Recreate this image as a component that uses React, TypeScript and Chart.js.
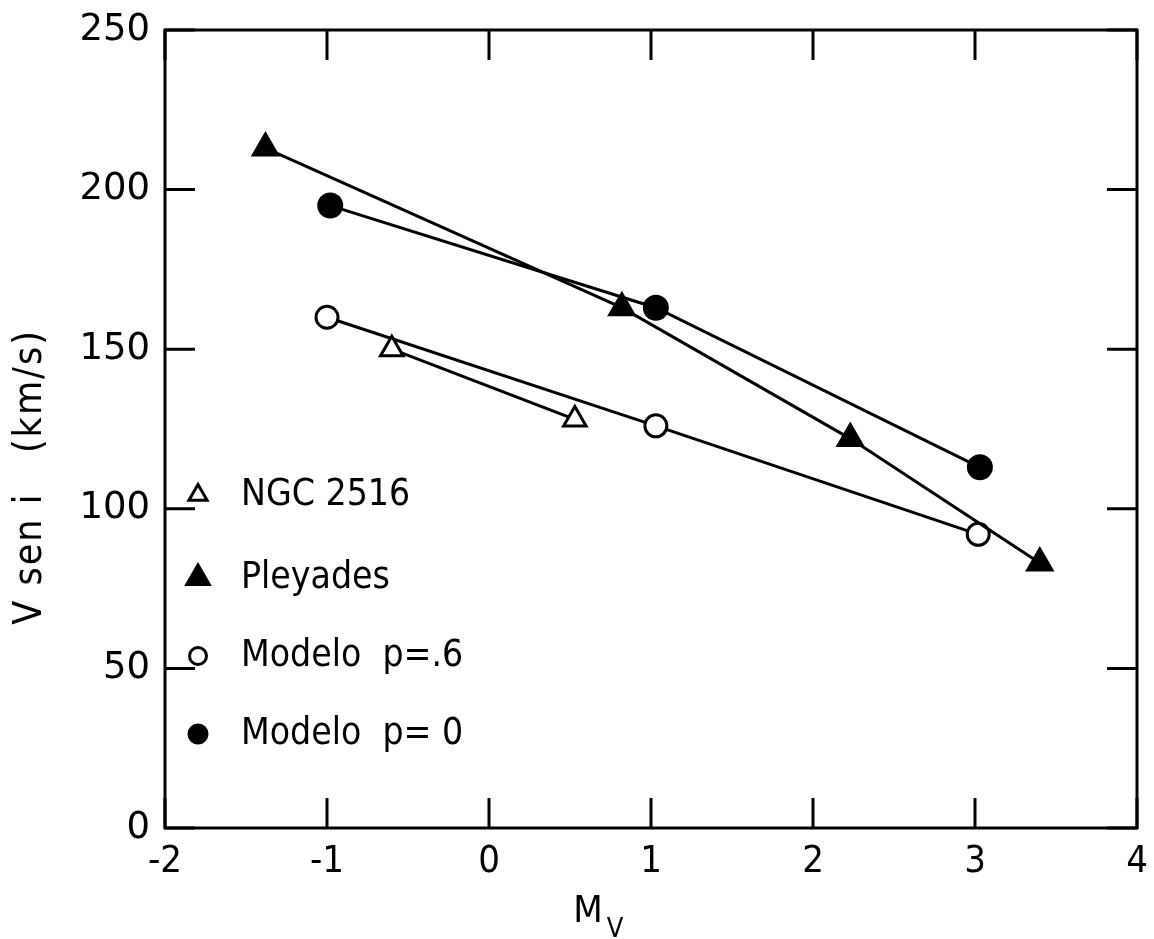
import React, { useEffect, useRef } from 'react';
import { Chart, registerables } from 'chart.js';
import { drawPoint } from 'chart.js/helpers';

Chart.register(...registerables);

// ---- data ----
const xTickValues = [-2, -1, 0, 1, 2, 3, 4];
const yTickValues = [0, 50, 100, 150, 200, 250];

const ngcX = [-0.6, 0.53];
const ngcY = [150, 128];

const pleyadesX = [-1.38, 0.82, 2.23, 3.4];
const pleyadesY = [213, 163, 122, 83];

const modelo6X = [-1.0, 1.03, 3.02];
const modelo6Y = [160, 126, 92];

const modelo0X = [-0.98, 1.03, 3.03];
const modelo0Y = [195, 163, 113];

const seriesLabels = ['NGC 2516', 'Pleyades', 'Modelo  p=.6', 'Modelo  p= 0'];
const xTitleMain = 'M';
const xTitleSub = 'V';
const yTitle = 'V sen i   (km/s)';

const toPoints = (xs: number[], ys: number[]) => xs.map((x, i) => ({ x, y: ys[i] }));

const CONDENSED = '"DejaVu Sans Condensed", "DejaVu Sans", sans-serif';

const framePlugin = {
  id: 'frameTicks',
  beforeDatasetsDraw(chart: any) {
    const { ctx, chartArea, scales } = chart;
    const { left, right, top, bottom } = chartArea;
    const L = 30;
    ctx.save();
    ctx.strokeStyle = '#000';
    ctx.lineWidth = 3;
    ctx.lineCap = 'butt';
    ctx.strokeRect(left, top, right - left, bottom - top);
    ctx.beginPath();
    xTickValues.forEach((v) => {
      const px = scales.x.getPixelForValue(v);
      ctx.moveTo(px, bottom);
      ctx.lineTo(px, bottom - L);
      ctx.moveTo(px, top);
      ctx.lineTo(px, top + L);
    });
    yTickValues.forEach((v) => {
      const py = scales.y.getPixelForValue(v);
      ctx.moveTo(left, py);
      ctx.lineTo(left + L, py);
      ctx.moveTo(right, py);
      ctx.lineTo(right - L, py);
    });
    ctx.stroke();
    ctx.restore();
  },
  afterDraw(chart: any) {
    const { ctx, chartArea, scales } = chart;
    ctx.save();
    // legend inside plot
    const legendSizes = [10.5, 13, 8.5, 9];
    const rowY = [495, 578, 656, 734];
    chart.data.datasets.forEach((ds: any, i: number) => {
      ctx.fillStyle = ds.pointBackgroundColor;
      ctx.strokeStyle = ds.pointBorderColor;
      ctx.lineWidth = 3;
      drawPoint(ctx, { pointStyle: ds.pointStyle, radius: legendSizes[i], rotation: 0, borderWidth: 3 }, chartArea.left + 33, rowY[i]);
      ctx.fillStyle = '#000';
      ctx.font = '37px ' + CONDENSED;
      ctx.textBaseline = 'middle';
      ctx.textAlign = 'left';
      ctx.fillText(ds.label, chartArea.left + 76, rowY[i]);
    });
    // x title with subscript
    const mx = scales.x.getPixelForValue(0.52);
    ctx.fillStyle = '#000';
    ctx.textBaseline = 'alphabetic';
    ctx.textAlign = 'left';
    ctx.font = '38px ' + CONDENSED;
    ctx.fillText(xTitleMain, mx, 922);
    const mw = ctx.measureText(xTitleMain).width;
    ctx.font = '27px ' + CONDENSED;
    ctx.fillText(xTitleSub, mx + mw + 4, 937);
    // y title (rotated)
    const cy = scales.y.getPixelForValue(110);
    ctx.translate(31, cy);
    ctx.rotate(-Math.PI / 2);
    ctx.textAlign = 'center';
    ctx.textBaseline = 'middle';
    ctx.font = '39px ' + CONDENSED;
    try {
      (ctx as any).letterSpacing = '2px';
    } catch (e) {
      /* ignore */
    }
    ctx.fillText(yTitle, 0, 0);
    ctx.restore();
  },
};

export default function App() {
  const canvasRef = useRef<HTMLCanvasElement | null>(null);

  useEffect(() => {
    document.body.style.margin = '0';
    document.body.style.background = '#fff';
    const canvas = canvasRef.current;
    if (!canvas) return;
    const common = {
      borderColor: '#000',
      borderWidth: 3,
      pointBorderColor: '#000',
      pointBorderWidth: 3,
      showLine: true,
      tension: 0,
    };
    const chart = new Chart(canvas, {
      type: 'scatter',
      data: {
        datasets: [
          {
            ...common,
            label: seriesLabels[0],
            data: toPoints(ngcX, ngcY),
            pointStyle: 'triangle',
            pointRadius: 13,
            pointBackgroundColor: '#fff',
          },
          {
            ...common,
            label: seriesLabels[1],
            data: toPoints(pleyadesX, pleyadesY),
            pointStyle: 'triangle',
            pointRadius: 14,
            pointBackgroundColor: '#000',
          },
          {
            ...common,
            label: seriesLabels[2],
            data: toPoints(modelo6X, modelo6Y),
            pointStyle: 'circle',
            pointRadius: 11,
            pointBackgroundColor: '#fff',
          },
          {
            ...common,
            label: seriesLabels[3],
            data: toPoints(modelo0X, modelo0Y),
            pointStyle: 'circle',
            pointRadius: 11.5,
            pointBackgroundColor: '#000',
          },
        ],
      },
      options: {
        responsive: false,
        animation: false,
        events: [],
        layout: { padding: { top: 30, right: 13, left: 0, bottom: 0 } },
        plugins: {
          legend: { display: false },
          tooltip: { enabled: false },
        },
        scales: {
          x: {
            type: 'linear',
            min: -2,
            max: 4,
            afterBuildTicks: (scale: any) => {
              scale.ticks = xTickValues.map((v) => ({ value: v }));
            },
            ticks: {
              color: '#000',
              padding: 3,
              font: { family: CONDENSED, size: 38 },
              maxRotation: 0,
            },
            grid: { display: false },
            border: { display: false },
            afterFit: (scale: any) => {
              scale.height = 111;
            },
          },
          y: {
            type: 'linear',
            min: 0,
            max: 250,
            afterBuildTicks: (scale: any) => {
              scale.ticks = yTickValues.map((v) => ({ value: v }));
            },
            ticks: {
              color: '#000',
              padding: 7,
              font: { family: '"DejaVu Sans", sans-serif', size: 37 },
            },
            grid: { display: false },
            border: { display: false },
            afterFit: (scale: any) => {
              scale.width = 165;
            },
          },
        },
      },
      plugins: [framePlugin],
    } as any);
    return () => chart.destroy();
  }, []);

  return (
    <div style={{ width: 1154, height: 939 }}>
      <canvas ref={canvasRef} width={1154} height={939} style={{ display: 'block' }} />
    </div>
  );
}
